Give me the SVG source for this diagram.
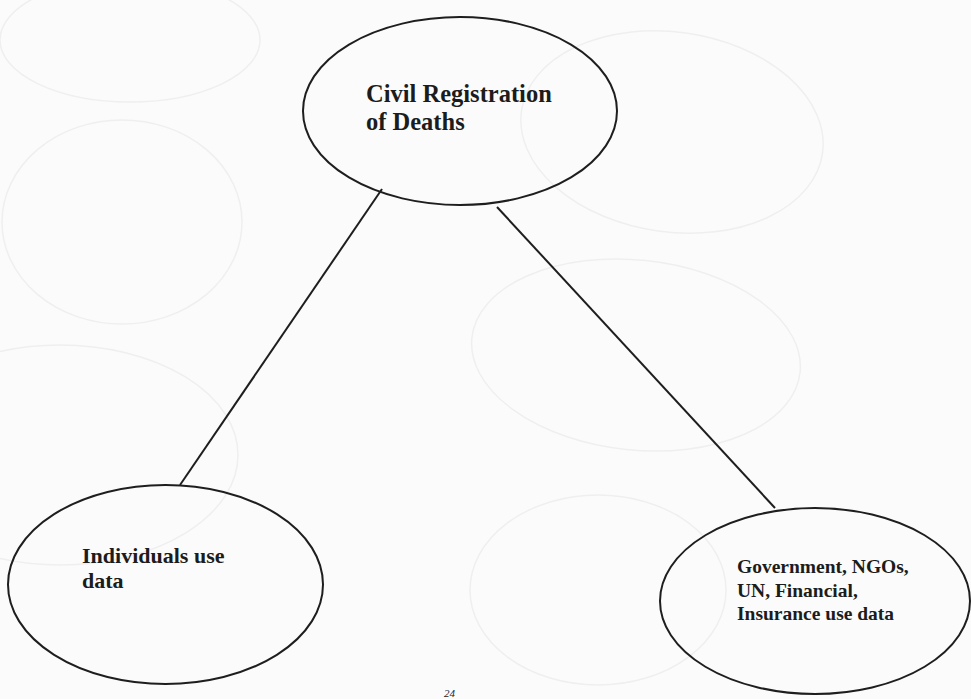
<svg xmlns="http://www.w3.org/2000/svg" width="971" height="699" viewBox="0 0 971 699">
  <style>
    .node { fill: none; stroke: #1e1e1e; stroke-width: 2; }
    .edge { stroke: #1e1e1e; stroke-width: 2; fill: none; }
    .faint { fill: none; stroke: #efefef; stroke-width: 1.5; }
    .label { font-family: "Liberation Serif", "Times New Roman", serif; font-weight: bold; fill: #1c1c1c; }
  </style>

  <rect width="971" height="699" fill="#fbfbfb"/>

  <!-- faint marks showing through the paper -->
  <g id="paper-marks">
    <ellipse class="faint" cx="130" cy="40" rx="130" ry="62"/>
    <ellipse class="faint" cx="672" cy="132" rx="152" ry="100" transform="rotate(8 672 132)"/>
    <ellipse class="faint" cx="122" cy="222" rx="120" ry="102"/>
    <ellipse class="faint" cx="636" cy="355" rx="165" ry="95" transform="rotate(6 636 355)"/>
    <ellipse class="faint" cx="60" cy="455" rx="178" ry="110"/>
    <ellipse class="faint" cx="598" cy="590" rx="128" ry="95"/>
  </g>

  <!-- connectors -->
  <g id="connectors">
    <line class="edge" x1="382" y1="189" x2="180" y2="485"/>
    <line class="edge" x1="497" y1="207" x2="775" y2="508"/>
  </g>

  <g id="civil-registration">
    <ellipse class="node" cx="460" cy="111" rx="157" ry="94"/>
    <text class="label" font-size="24.5">
      <tspan x="366" y="102">Civil Registration</tspan>
      <tspan x="366" y="130">of Deaths</tspan>
    </text>
  </g>

  <g id="individuals">
    <ellipse class="node" cx="165.5" cy="584.5" rx="157.5" ry="99.5"/>
    <text class="label" font-size="22">
      <tspan x="82" y="563">Individuals use</tspan>
      <tspan x="82" y="588">data</tspan>
    </text>
  </g>

  <g id="institutions">
    <ellipse class="node" cx="815" cy="601" rx="155" ry="93"/>
    <text class="label" font-size="19.5">
      <tspan x="737" y="573">Government, NGOs,</tspan>
      <tspan x="737" y="597">UN, Financial,</tspan>
      <tspan x="737" y="620">Insurance use data</tspan>
    </text>
  </g>

  <!-- page number at the lower edge -->
  <text x="444" y="697" font-family="Liberation Serif, serif" font-style="italic" font-size="11" fill="#1c1c1c">24</text>
</svg>
